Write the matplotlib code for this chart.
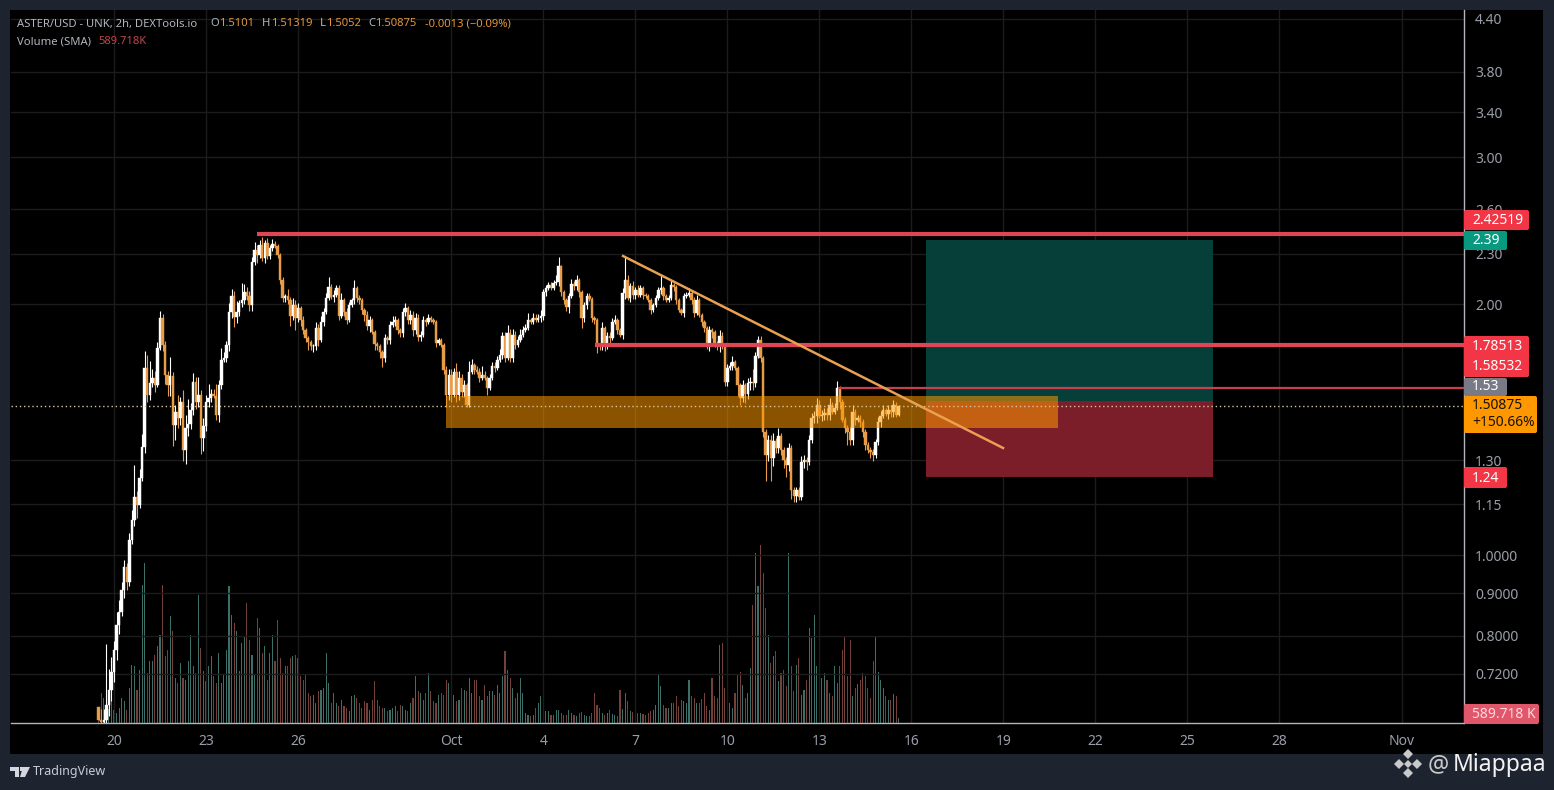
import matplotlib
matplotlib.use('Agg')
import matplotlib.pyplot as plt
from matplotlib.patches import FancyBboxPatch, Polygon, Rectangle
from matplotlib.ticker import NullLocator
from matplotlib.transforms import IdentityTransform
import numpy as np

plt.rcParams['font.family'] = ['Noto Sans', 'DejaVu Sans']

W, H = 1554, 790

# 2h candles, one row is one day, first candle is Sep 19 12:00
first_open = 0.657
closes = [
    0.634, 0.630, 0.634, 0.661, 0.689, 0.724, 0.769, 0.824, 0.854, 0.908, 0.967, 0.928,
    1.042, 1.102, 1.174, 1.148, 1.237, 1.347, 1.676, 1.556, 1.609, 1.631, 1.600, 1.771,
    1.924, 1.786, 1.644, 1.600, 1.640, 1.433, 1.485, 1.461, 1.527, 1.337, 1.421, 1.437,
    1.493, 1.613, 1.527, 1.556, 1.382, 1.429, 1.527, 1.544, 1.560, 1.552, 1.473, 1.600,
    1.714, 1.723, 1.786, 1.956, 2.044, 1.929, 1.956, 2.005, 2.022, 2.067, 2.044, 1.994,
    2.246, 2.323, 2.291, 2.355, 2.271, 2.368, 2.284, 2.336, 2.361, 2.348, 2.291, 2.137,
    2.033, 2.044, 2.022, 1.935, 1.994, 1.924, 1.978, 1.913, 1.861, 1.821, 1.801, 1.781,
    1.781, 1.871, 1.811, 1.903, 1.956, 2.033, 2.096, 2.039, 2.050, 2.090, 1.935, 2.022,
    1.956, 1.913, 1.994, 2.022, 2.090, 2.033, 2.022, 1.967, 1.940, 1.882, 1.913, 1.851,
    1.791, 1.781, 1.751, 1.723, 1.821, 1.811, 1.887, 1.903, 1.913, 1.861, 1.846, 1.956,
    1.978, 1.913, 1.940, 1.861, 1.924, 1.826, 1.836, 1.913, 1.903, 1.924, 1.913, 1.903,
    1.796, 1.811, 1.786, 1.667, 1.556, 1.644, 1.556, 1.658, 1.556, 1.631, 1.569, 1.600,
    1.514, 1.658, 1.690, 1.667, 1.658, 1.631, 1.644, 1.631, 1.587, 1.631, 1.685, 1.676,
    1.714, 1.737, 1.831, 1.723, 1.846, 1.723, 1.836, 1.786, 1.811, 1.836, 1.861, 1.871,
    1.913, 1.903, 1.924, 1.913, 1.924, 1.935, 2.067, 2.090, 2.108, 2.090, 2.120, 2.125,
    2.221, 2.067, 2.022, 1.983, 2.044, 2.114, 2.102, 2.137, 2.067, 1.924, 1.994, 2.044,
    2.028, 1.924, 1.913, 1.786, 1.781, 1.871, 1.786, 1.831, 1.821, 1.903, 1.913, 1.861,
    1.836, 2.061, 2.137, 2.033, 2.102, 2.050, 2.079, 2.050, 2.090, 2.050, 2.044, 2.022,
    1.967, 1.994, 2.033, 2.079, 2.090, 2.044, 2.022, 2.033, 2.108, 2.096, 2.022, 1.967,
    1.951, 2.044, 2.050, 2.061, 2.022, 1.951, 2.022, 1.940, 1.903, 1.871, 1.786, 1.861,
    1.851, 1.786, 1.781, 1.831, 1.786, 1.613, 1.676, 1.685, 1.705, 1.676, 1.600, 1.544,
    1.600, 1.560, 1.609, 1.613, 1.609, 1.733, 1.811, 1.723, 1.405, 1.318, 1.374, 1.308,
    1.370, 1.344, 1.390, 1.337, 1.300, 1.282, 1.344, 1.197, 1.177, 1.197, 1.174, 1.293,
    1.300, 1.293, 1.374, 1.461, 1.469, 1.514, 1.469, 1.473, 1.481, 1.473, 1.514, 1.485,
    1.501, 1.587, 1.527, 1.453, 1.421, 1.405, 1.374, 1.485, 1.453, 1.461, 1.445, 1.405,
    1.355, 1.337, 1.329, 1.318, 1.366, 1.445, 1.469, 1.493, 1.477, 1.493, 1.485, 1.514,
    1.473, 1.50875,
]
up_wicks = [
    0, .02, .02, .12, .04, .03, .02, .03, .03, .02, .02, .01,
    .02, .03, .11, .02, .03, .05, .08, .06, .10, .04, .03, .03,
    .04, .02, .02, .02, .09, .02, .03, .07, .02, .05, .05, .10,
    .03, .04, .02, .08, .02, .03, .03, .06, .02, .02, .05, .02,
    .06, .03, .02, .05, .04, .03, .06, .02, .10, .05, .03, .03,
    .03, .05, .03, .03, .05, .02, .03, .02, .03, .02, .01, .01,
    .02, .01, .04, .02, .04, .03, .03, .01, .02, .01, .01, .01,
    .01, .03, .02, .03, .02, .03, .06, .02, .03, .02, .02, .04,
    .01, .02, .02, .01, .05, .01, .02, .01, .01, .02, .02, .01,
    .01, .01, .01, .01, .02, .01, .02, .03, .02, .01, .01, .02,
    .03, .01, .03, .02, .03, .02, .02, .02, .01, .02, .01, .01,
    .01, .01, .01, .01, .02, .03, .03, .02, .04, .03, .02, .02,
    .01, .05, .03, .01, .02, .02, .04, .02, .01, .02, .02, .02,
    .02, .03, .02, .02, .04, .02, .03, .02, .02, .03, .02, .02,
    .04, .01, .03, .02, .02, .03, .02, .02, .02, .02, .02, .04,
    .06, .01, .01, .01, .02, .03, .02, .03, .01, .01, .02, .02,
    .02, .01, .01, .01, .01, .03, .01, .02, .02, .02, .03, .01,
    .01, .03, .15, .03, .02, .03, .02, .03, .02, .01, .01, .01,
    .01, .01, .02, .02, .08, .01, .01, .02, .03, .01, .01, .01,
    .01, .02, .02, .03, .02, .02, .03, .01, .01, .01, .01, .02,
    .01, .01, .02, .03, .02, .01, .02, .02, .03, .01, .01, .01,
    .02, .01, .02, .02, .06, .02, .02, .02, .01, .01, .02, .02,
    .03, .01, .03, .01, .01, .01, .02, .01, .01, .01, .01, .02,
    .02, .01, .02, .02, .02, .03, .02, .02, .02, .02, .03, .01,
    .02, .03, .01, .01, .01, .01, .02, .03, .01, .01, .01, .01,
    .01, .01, .01, .01, .01, .02, .02, .02, .01, .02, .02, .02,
    .01, .00444,
]
down_wicks = [
    0, .01, .01, .02, .02, .02, .02, .02, .02, .01, .02, .02,
    .01, .01, .02, .04, .01, .01, .02, .03, .02, .02, .03, .01,
    .01, .03, .04, .05, .05, .08, .06, .04, .03, .04, .05, .03,
    .02, .02, .03, .02, .06, .05, .02, .02, .02, .01, .02, .03,
    .02, .01, .02, .03, .03, .05, .03, .02, .02, .02, .02, .03,
    .03, .02, .05, .02, .02, .03, .02, .02, .02, .01, .02, .02,
    .02, .02, .02, .05, .02, .06, .02, .03, .02, .02, .04, .02,
    .03, .02, .03, .01, .02, .01, .01, .01, .03, .01, .02, .01,
    .02, .02, .01, .01, .02, .02, .02, .02, .03, .02, .03, .01,
    .03, .02, .03, .04, .02, .02, .02, .01, .02, .02, .02, .02,
    .02, .02, .02, .03, .02, .02, .02, .01, .02, .01, .01, .01,
    .02, .01, .01, .02, .05, .02, .03, .01, .03, .02, .02, .02,
    .01, .01, .01, .02, .01, .02, .01, .01, .03, .01, .01, .02,
    .01, .01, .02, .02, .01, .02, .02, .02, .01, .01, .01, .01,
    .01, .01, .01, .01, .01, .02, .02, .02, .01, .01, .01, .01,
    .02, .02, .02, .02, .03, .01, .02, .02, .03, .05, .02, .02,
    .01, .02, .02, .04, .02, .02, .03, .02, .03, .01, .01, .02,
    .01, .02, .03, .01, .02, .02, .02, .01, .01, .02, .01, .01,
    .02, .01, .01, .01, .02, .02, .01, .01, .01, .02, .02, .01,
    .01, .02, .01, .01, .02, .02, .01, .01, .02, .02, .02, .03,
    .03, .01, .02, .03, .02, .02, .02, .01, .02, .01, .05, .03,
    .02, .04, .02, .03, .03, .02, .01, .02, .02, .09, .02, .08,
    .03, .02, .02, .02, .03, .04, .02, .03, .02, .02, .01, .01,
    .02, .03, .01, .01, .02, .03, .01, .02, .02, .02, .02, .01,
    .01, .01, .03, .01, .02, .05, .02, .02, .02, .01, .02, .02,
    .02, .01, .02, .02, .01, .01, .02, .01, .01, .02, .02, .02,
    .01, .00355,
]
# volume in millions
volumes = [
    .40, 1.5, 1.25, .50, .70, 1.75, .65, .50, .75, 1.25, 1.1, .65,
    1.75, 2.9, 2.85, 1.65, 2.65, 6.9, 8.0, 2.5, 3.1, 3.1, 3.4, 3.85,
    4.4, 6.9, 3.35, 3.65, 5.35, 4.6, 2.25, 2.0, 3.0, 2.25, 2.15, 3.1,
    4.4, 2.85, 2.5, 6.4, 3.75, 2.6, 2.1, 2.85, 3.35, 2.35, 2.0, 3.5,
    2.0, 2.4, 3.65, 6.85, 5.4, 5.0, 4.6, 2.6, 4.0, 4.35, 6.0, 4.15,
    3.4, 2.4, 5.25, 4.75, 3.5, 3.85, 2.15, 3.5, 4.4, 3.1, 5.15, 3.25,
    2.5, 2.85, 2.85, 3.25, 3.35, 3.4, 3.25, 2.35, 2.15, 2.4, 1.5, 1.35,
    1.4, 1.0, 1.6, 1.65, 1.75, 3.5, 2.0, 1.0, 1.5, 1.0, .85, 1.15,
    .85, .75, .60, 1.35, 1.4, 1.25, 1.0, .75, 1.1, 1.0, .65, 1.15,
    2.1, 1.15, .85, .75, .75, .60, .65, .75, .85, .60, .90, .85,
    .65, .60, 1.0, 1.25, 2.35, 1.6, 1.5, 1.15, 1.5, 2.5, 1.6, 1.1,
    1.0, 1.4, 1.5, 1.4, 2.15, 2.0, 1.35, 1.4, 1.1, 1.15, 1.75, 1.65,
    1.6, 2.25, 1.5, 2.15, 2.15, 1.35, 1.15, 1.9, 1.35, 1.6, 1.6, 1.4,
    1.9, 1.5, 2.35, 3.6, 2.65, 2.25, 1.75, 1.25, 1.5, 2.25, 1.5, .50,
    .40, .35, .40, .75, 1.0, 1.35, .65, .60, .60, .40, .40, .65,
    .65, .50, .40, .40, .65, .50, .40, .35, .50, .55, .40, .35,
    .35, .50, 1.5, .90, .75, .50, .40, .50, .65, .45, .40, .35,
    1.65, .70, 1.5, 1.1, .60, .55, .50, .50, .50, .45, .40, .50,
    .60, .65, .90, 2.4, 1.85, .90, .75, .75, 1.0, 1.0, 1.35, .85,
    1.15, 1.1, 1.0, 2.15, 1.35, 1.25, 1.0, 1.0, 1.2, 1.5, .85, .65,
    2.25, 1.35, 1.25, 3.9, 4.0, 1.75, 1.1, 1.0, .75, 1.5, 2.4, 2.55,
    1.9, 1.25, 1.5, 2.75, 5.9, 8.5, 6.85, 8.9, 7.5, 5.75, 4.4, 3.0,
    3.35, 3.6, 2.1, 2.5, 2.65, 1.85, 8.5, 2.85, 1.6, 2.9, 3.25, 1.4,
    1.65, 2.15, 4.75, 4.25, 5.4, 2.85, 2.25, 2.25, 2.5, 2.15, 1.5, 1.35,
    2.85, 2.0, 2.85, 3.65, 4.35, 2.35, 4.15, 1.35, 1.75, 1.95, 2.15, 2.5,
    2.35, 1.75, 1.25, 3.1, 4.35, 2.55, 2.15, 1.75, 1.35, 1.15, 1.15, 1.45,
    1.35, .25,
]

price_ticks = [0.72, 0.8, 0.9, 1.0, 1.15, 1.3, 2.0, 2.3, 2.6, 3.0, 3.4, 3.8, 4.4]
price_labels = ['0.7200', '0.8000', '0.9000', '1.0000', '1.15', '1.30', '2.00',
                '2.30', '2.60', '3.00', '3.40', '3.80', '4.40']
day_ticks = [0, 3, 6, 11, 14, 17, 20, 23, 26, 29, 32, 35, 38, 42]
day_labels = ['20', '23', '26', 'Oct', '4', '7', '10', '13', '16', '19', '22', '25', '28', 'Nov']

resistance_top = 2.42519
resistance_mid = 1.78513
stop_line = 1.58532
last_close = 1.50875
entry = 1.53
target = 2.39
stop = 1.24
zone_low, zone_high = 1.42, 1.552

BLACK = '#000000'
FRAME = '#1e2330'
WHITE = '#ffffff'
ORANGE = '#e89c48'
RED = '#e04556'
AXIS = '#b2b5be'
GRID = '#1c1c1c'


def px_box(x0, y0, x1, y1, color, zorder=5, round_px=2):
    # pixel box, y counted from the top of the picture
    fig.add_artist(FancyBboxPatch((x0, H - y1), x1 - x0, y1 - y0, transform=IdentityTransform(),
                                  boxstyle=f'round,pad=0,rounding_size={round_px}',
                                  fc=color, ec='none', zorder=zorder))


def px_text(x, y, s, color, size=10, **kw):
    fig.text(x / W, 1 - y / H, s, color=color, fontsize=size, va='center', zorder=6, **kw)


def px_poly(points, color):
    fig.add_artist(Polygon([(x, H - y) for x, y in points], closed=True, transform=IdentityTransform(),
                           fc=color, ec='none', zorder=6))


fig = plt.figure(figsize=(W / 100, H / 100), dpi=100, facecolor=FRAME)

# black panes behind the chart
px_box(10, 10, 1543, 754, BLACK, zorder=0, round_px=0)

vol_ax = fig.add_axes([11 / W, 1 - 723 / H, (1464 - 11) / W, (723 - 10) / H], facecolor=BLACK)
ax = vol_ax.twinx()
ax.set_zorder(2)
vol_ax.set_zorder(1)
ax.patch.set_visible(False)

closes = np.array(closes)
opens = np.r_[first_open, closes[:-1]]
highs = np.maximum(opens, closes) + np.array(up_wicks)
lows = np.minimum(opens, closes) - np.array(down_wicks)
days = -0.5 + np.arange(len(closes)) / 12
rising = closes >= opens

vol_ax.bar(days, volumes, width=0.034, color=np.where(rising, '#3c6f68', '#74403a'), linewidth=0)
vol_ax.set_xlim(-3.358, 44.02)
vol_ax.set_ylim(0, 35.65)
vol_ax.set_yticks([])
vol_ax.xaxis.set_visible(False)

ax.xaxis.set_visible(True)
ax.xaxis.tick_bottom()
ax.set_yscale('log')
ax.set_xlim(-3.358, 44.02)
ax.set_ylim(0.6287, 4.507)
ax.yaxis.set_minor_locator(NullLocator())
ax.set_yticks(price_ticks, price_labels)
ax.set_xticks(day_ticks, day_labels)
ax.yaxis.tick_right()
ax.tick_params(axis='y', length=0, pad=8, labelsize=10, labelcolor='#9a9ea8')
ax.tick_params(axis='x', length=0, pad=8, labelsize=10, labelcolor='#9a9ea8')
ax.grid(True, color=GRID, linewidth=1)
ax.set_axisbelow(True)
for side in ['top', 'left']:
    ax.spines[side].set_visible(False)
    vol_ax.spines[side].set_visible(False)
for side in ['right', 'bottom']:
    ax.spines[side].set_color(AXIS)
    ax.spines[side].set_linewidth(1)

colors = np.where(rising, WHITE, ORANGE)
ax.vlines(days, lows, highs, colors=colors, linewidth=0.8, zorder=3)
ax.bar(days, np.abs(closes - opens), bottom=np.minimum(opens, closes), width=0.08,
       color=colors, linewidth=0.3, edgecolor=colors, zorder=3)

# long / short position boxes
ax.add_patch(Rectangle((26.48, entry), 9.35, target - entry, fc='#063f39', ec='none', zorder=2))
ax.add_patch(Rectangle((26.48, stop), 9.35, entry - stop, fc='#7c1d2a', ec='none', zorder=2))

# orange zone
ax.add_patch(Rectangle((10.82, zone_low), 19.96, zone_high - zone_low, fc='#ff9800', alpha=0.55,
                       ec='none', zorder=4))

ax.axhline(last_close, color='#d8c49c', linewidth=1, linestyle=(0, (1, 2)), zorder=4)
ax.hlines(resistance_top, 4.67, 44.02, color=RED, linewidth=3, zorder=5)
ax.hlines(resistance_mid, 15.68, 44.02, color=RED, linewidth=3, zorder=5)
ax.hlines(stop_line, 23.6, 44.02, color='#c8404f', linewidth=1.6, zorder=5)
ax.plot([16.6, 28.99], [2.284, 1.344], color='#e9a050', linewidth=1.8, zorder=5)

# price scale tags
px_box(1464, 210, 1529, 230, '#f23645')
px_text(1472, 220, '2.42519', '#ffffff')
px_box(1464, 231, 1507, 250, '#089981')
px_text(1472, 240, '2.39', '#ffffff')
px_box(1464, 336, 1529, 377, '#f23645')
px_text(1472, 346, '1.78513', '#ffffff')
px_text(1472, 367, '1.58532', '#ffffff')
px_box(1464, 378, 1507, 396, '#787b86')
px_text(1472, 387, '1.53', '#ffffff')
px_box(1464, 396, 1537, 433, '#ff9800')
px_text(1472, 406, '1.50875', '#1a1208')
px_text(1472, 423, '+150.66%', '#1a1208')
px_box(1464, 467, 1507, 488, '#f23645')
px_text(1472, 478, '1.24', '#ffffff')
px_box(1464, 704, 1539, 724, '#e0566a')
px_text(1472, 714, '589.718 K', '#ffd8dc')

# header
px_text(17, 24, 'ASTER/USD - UNK, 2h, DEXTools.io', AXIS, size=8.1)
for x, s in [(210, 'O'), (262, 'H'), (320, 'L'), (368, 'C')]:
    px_text(x, 24, s, AXIS, size=8.1)
for x, s in [(219, '1.5101'), (271, '1.51319'), (326, '1.5052'), (375, '1.50875'),
             (425, '-0.0013 (\u22120.09%)')]:
    px_text(x, 24, s, '#e0953f', size=8.1)
px_text(17, 42, 'Volume (SMA)', AXIS, size=8.1)
px_text(98, 42, '589.718K', '#c2434e', size=8.1)

# TradingView mark
px_poly([(10, 767), (19, 767), (19, 777), (15, 777), (15, 771), (10, 771)], '#d4d7de')
px_poly([(19.5, 767), (23, 767), (23, 771), (19.5, 771)], '#d4d7de')
px_poly([(23, 767), (30, 767), (25, 777), (20, 777)], '#d4d7de')
px_text(33, 772, 'TradingView', '#c8ccd4', size=9)

# watermark
for cx, cy in [(1408, 754), (1399, 764), (1417, 764), (1408, 773)]:
    px_poly([(cx, cy - 5), (cx + 5, cy), (cx, cy + 5), (cx - 5, cy)], '#c9c9c9')
px_poly([(1408, 760), (1412, 764), (1408, 768), (1404, 764)], '#c9c9c9')
px_text(1428, 765, '@', '#c9c9c9', size=17)
px_text(1453, 765, 'Miappaa', '#f2f2f2', size=16.5)

fig.savefig('out.png', dpi=100, facecolor=FRAME)
